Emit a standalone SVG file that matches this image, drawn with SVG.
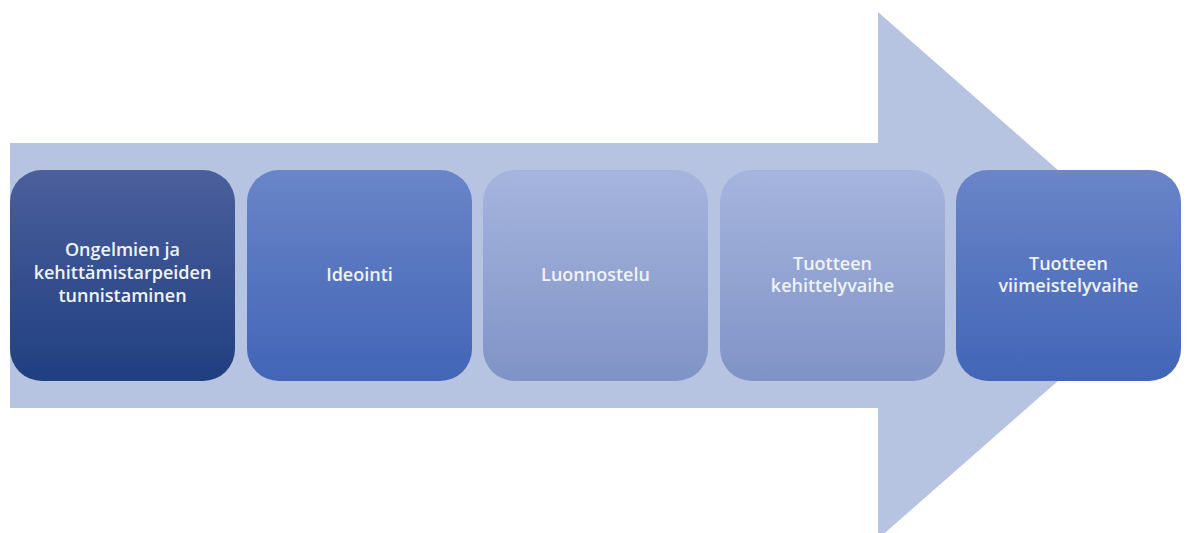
<svg xmlns="http://www.w3.org/2000/svg" width="1187" height="533" viewBox="0 0 1187 533">
<defs>
<linearGradient id="g1" x1="0" y1="0" x2="0" y2="1"><stop offset="0" stop-color="#4b5f9c"/><stop offset="1" stop-color="#203f80"/></linearGradient>
<linearGradient id="g2" x1="0" y1="0" x2="0" y2="1"><stop offset="0" stop-color="#6a85c8"/><stop offset="1" stop-color="#4265b7"/></linearGradient>
<linearGradient id="g3" x1="0" y1="0" x2="0" y2="1"><stop offset="0" stop-color="#a6b5de"/><stop offset="1" stop-color="#8093c6"/></linearGradient>
</defs>
<style>
.lbl{font-family:"Open Sans","Liberation Sans",sans-serif;font-size:18px;font-weight:600;fill:#f0f3fa;text-anchor:middle}
</style>
<rect width="1187" height="533" fill="#ffffff"/>
<g id="arrow">
<polygon points="10,143 878,143 878,12 1178,275.5 878,539 878,408 10,408" fill="#b6c3e1"/>
</g>
<g id="n1">
<rect x="10" y="170" width="225" height="211" rx="32" fill="url(#g1)"/>
<text class="lbl" x="122.5" y="256">Ongelmien ja</text>
<text class="lbl" x="122.5" y="279">kehittämistarpeiden</text>
<text class="lbl" x="122.5" y="302">tunnistaminen</text>
</g>
<g id="n2">
<rect x="247" y="170" width="225" height="211" rx="32" fill="url(#g2)"/>
<text class="lbl" x="359.5" y="281">Ideointi</text>
</g>
<g id="n3">
<rect x="483" y="170" width="225" height="211" rx="32" fill="url(#g3)"/>
<text class="lbl" x="595.5" y="281">Luonnostelu</text>
</g>
<g id="n4">
<rect x="720" y="170" width="225" height="211" rx="32" fill="url(#g3)"/>
<text class="lbl" x="832.5" y="270">Tuotteen</text>
<text class="lbl" x="832.5" y="292">kehittelyvaihe</text>
</g>
<g id="n5">
<rect x="956" y="170" width="225" height="211" rx="32" fill="url(#g2)"/>
<text class="lbl" x="1068.5" y="270">Tuotteen</text>
<text class="lbl" x="1068.5" y="292">viimeistelyvaihe</text>
</g>
<g id="connectors"></g>
</svg>
